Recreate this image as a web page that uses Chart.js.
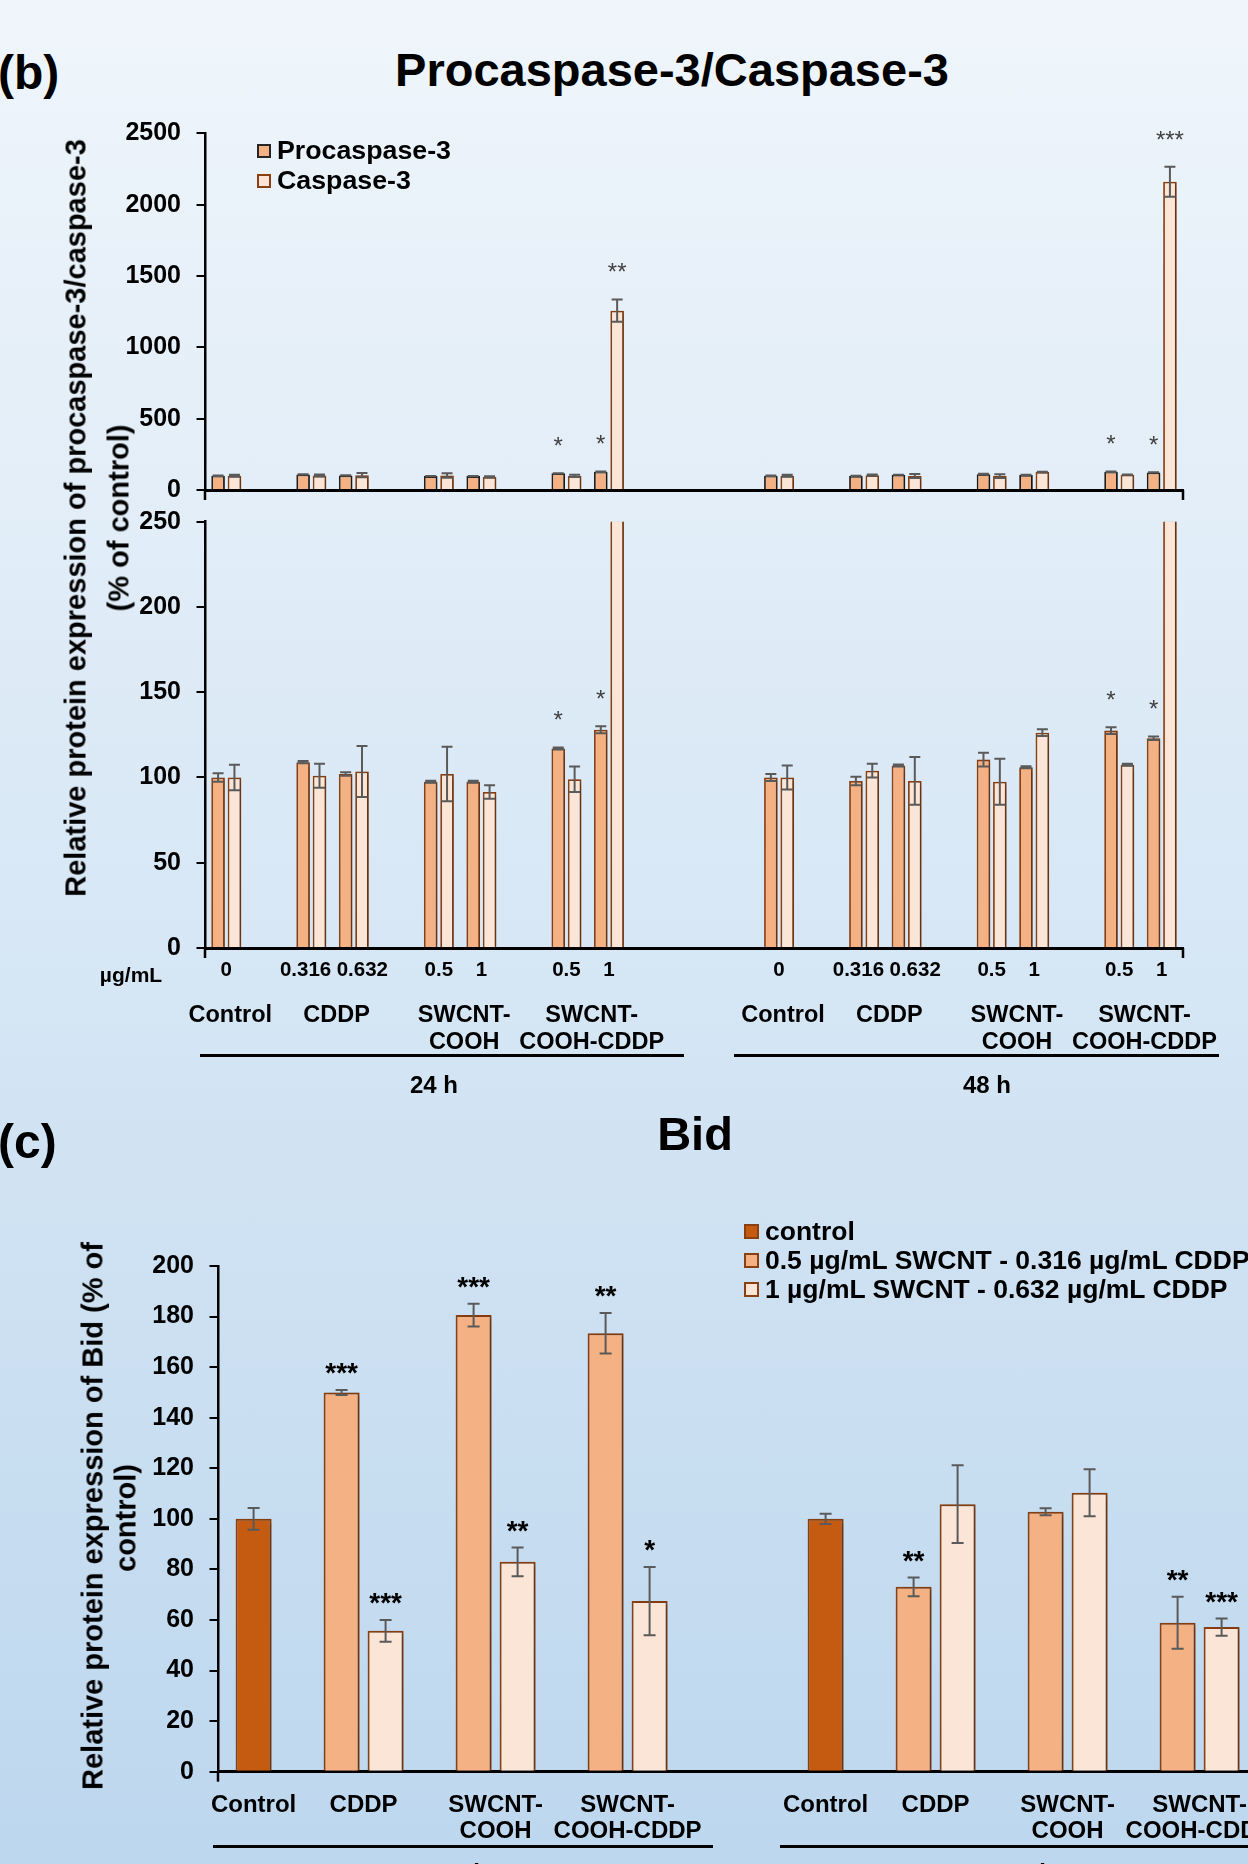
<!DOCTYPE html>
<html><head><meta charset="utf-8">
<script src="https://cdn.jsdelivr.net/npm/chart.js@4.4.1/dist/chart.umd.min.js"></script>
<style>
html,body{margin:0;padding:0;}
body{width:1248px;height:1864px;overflow:hidden;position:relative;
 background:linear-gradient(to bottom,#eff5fb 0%,#d7e7f5 50%,#bdd7ee 100%);
 font-family:'Liberation Sans',Arial,sans-serif;font-weight:bold;color:#000;}
.t{position:absolute;white-space:nowrap;line-height:1;transform:translate(-50%,-50%);}
.l{position:absolute;white-space:nowrap;line-height:1;transform:translate(0,-50%);transform-origin:0 50%;}
.r{position:absolute;white-space:nowrap;line-height:1;transform:translate(-50%,-50%) rotate(-90deg);}
canvas{position:absolute;left:0;}
.sw{position:absolute;box-sizing:border-box;border:2px solid #8B4011;}
.hl{position:absolute;height:3px;background:#000;}
</style></head><body>
<canvas id="cTop" width="1248" height="440" style="top:100px"></canvas>
<canvas id="cBot" width="1248" height="620" style="top:480px"></canvas>
<canvas id="cBid" width="1248" height="714" style="top:1150px"></canvas>

<div class="l" style="left:-2px;top:73px;font-size:48px">(b)</div>
<div class="t" style="left:672px;top:69px;font-size:47px">Procaspase-3/Caspase-3</div>
<div class="sw" style="left:257px;top:144px;width:14px;height:14px;background:#F4B183;border-color:#262626"></div>
<div class="l" style="left:277px;top:150px;font-size:25px;transform:translate(0,-50%) scaleX(1.07)">Procaspase-3</div>
<div class="sw" style="left:257px;top:174px;width:14px;height:14px;background:#FBE5D6"></div>
<div class="l" style="left:277px;top:180px;font-size:25px;transform:translate(0,-50%) scaleX(1.07)">Caspase-3</div>
<div class="r" style="left:76px;top:518px;font-size:29px">Relative protein expression of procaspase-3/caspase-3</div>
<div class="r" style="left:119px;top:518px;font-size:29px">(% of control)</div>
<div class="t" style="left:131px;top:974px;font-size:21px">µg/mL</div>
<div class="hl" style="left:200px;top:1054px;width:484px"></div>
<div class="hl" style="left:734px;top:1054px;width:485px"></div>
<div class="t" style="left:434px;top:1085px;font-size:24px">24 h</div>
<div class="t" style="left:987px;top:1085px;font-size:24px">48 h</div>

<div class="l" style="left:-2px;top:1142px;font-size:48px">(c)</div>
<div class="t" style="left:695px;top:1133px;font-size:47px">Bid</div>
<div class="sw" style="left:744px;top:1224px;width:15px;height:15px;background:#C55A11"></div>
<div class="l" style="left:765px;top:1231px;font-size:26.5px">control</div>
<div class="sw" style="left:744px;top:1253px;width:15px;height:15px;background:#F4B183"></div>
<div class="l" style="left:765px;top:1260px;font-size:26.5px">0.5 µg/mL SWCNT - 0.316 µg/mL CDDP</div>
<div class="sw" style="left:744px;top:1282px;width:15px;height:15px;background:#FBE5D6"></div>
<div class="l" style="left:765px;top:1289px;font-size:26.5px">1 µg/mL SWCNT - 0.632 µg/mL CDDP</div>
<div class="r" style="left:93px;top:1516px;font-size:29px">Relative protein expression of Bid (% of</div>
<div class="r" style="left:126px;top:1518px;font-size:29px">control)</div>
<div class="hl" style="left:213px;top:1845px;width:500px"></div>
<div class="hl" style="left:780px;top:1845px;width:480px"></div>
<div class="t" style="left:464px;top:1873px;font-size:24px">24 h</div>
<div class="t" style="left:1030px;top:1873px;font-size:24px">48 h</div>

<script>
// ---------- DATA ----------
// 23 slots: 24 h groups use slots 0..9, 48 h groups use slots 13..22 (null = spacer)
const doseLabels = ['0','','0.316','0.632','','0.5','1','','0.5','1','','','','0','','0.316','0.632','','0.5','1','','0.5','1'];
const procaspase = [100,null,109,102,null,97.5,97.5,null,117,128,null,null,null,100,null,98,107,null,110.5,106,null,127.5,123];
const procaspaseErr = [2.5,null,0.6,1,null,0.6,0.6,null,0.6,2,null,null,null,2,null,2.5,0.6,null,4,0.6,null,2,1];
const caspase = [100,null,101,103.5,null,102,91.5,null,99,1257,null,null,null,100,null,104,98,null,97.5,126.3,null,107.5,2161];
const caspaseErr = [7.5,null,7,15,null,16,4,null,7.5,78,null,null,null,7,null,4,14,null,13.5,2,null,0.6,105];
const procaspaseStars = ['','','','','','','','','*','*','','','','','','','','','','','','*','*'];
const caspaseStars = ['','','','','','','','','','**','','','','','','','','','','','','','***'];

const bidControl = [100,null,null,null,null,null,null,null,null,null,null,null,null,100,null,null,null,null,null,null,null,null,null];
const bidControlErr = [4.3,null,null,null,null,null,null,null,null,null,null,null,null,2,null,null,null,null,null,null,null,null,null];
const bidLow = [null,null,150,null,null,180.6,null,null,173.4,null,null,null,null,null,null,73.1,null,null,102.8,null,null,58.9,null];
const bidLowErr = [null,null,1,null,null,4.5,null,null,8,null,null,null,null,null,null,3.7,null,null,1.4,null,null,10.3,null];
const bidHigh = [null,null,null,55.7,null,null,83,null,null,67.5,null,null,null,null,null,null,105.8,null,null,110.3,null,null,57.2];
const bidHighErr = [null,null,null,4.3,null,null,5.7,null,null,13.5,null,null,null,null,null,null,15.4,null,null,9.3,null,null,3.4];
const bidLowStars = ['','','***','','','***','','','**','','','','','','','**','','','','','','**',''];
const bidHighStars = ['','','','***','','','**','','','*','','','','','','','','','','','','','***'];

const groupNames = [['Control'],['CDDP'],['SWCNT-','COOH'],['SWCNT-','COOH-CDDP'],['Control'],['CDDP'],['SWCNT-','COOH'],['SWCNT-','COOH-CDDP']];
const groupSlots = [[0],[2,3],[5,6],[8,9],[13],[15,16],[18,19],[21,22]];

const legendBid = ['control','0.5 µg/mL SWCNT - 0.316 µg/mL CDDP','1 µg/mL SWCNT - 0.632 µg/mL CDDP'];

// ---------- STYLE ----------
const FONT = "'Liberation Sans', Arial, sans-serif";
const PROC_FILL = '#F4B183', CASP_FILL = '#FBE5D6', CTRL_FILL = '#C55A11', EDGE = '#8B4011';
Chart.defaults.font.family = FONT;

// ---------- PLUGINS ----------
function rawVal(raw){ return (raw !== null && typeof raw === 'object') ? raw.y : raw; }
function rawIdx(raw, j){ return (raw !== null && typeof raw === 'object') ? raw.x : j; }

const shadowPlugin = {
  id: 'barShadow',
  beforeDatasetsDraw(chart){ const c = chart.ctx; c.save(); c.shadowColor = 'rgba(0,0,0,0.28)'; c.shadowBlur = 5; c.shadowOffsetX = 3; c.shadowOffsetY = 1; },
  afterDatasetsDraw(chart){ chart.ctx.restore(); }
};

const errorPlugin = {
  id: 'errorBars',
  afterDatasetsDraw(chart, args, opts){
    const {ctx, chartArea: a} = chart; const y = chart.scales.y;
    ctx.save();
    ctx.beginPath(); ctx.rect(a.left, a.top - 1, a.right - a.left, a.bottom - a.top + 1); ctx.clip();
    ctx.strokeStyle = opts.color; ctx.lineWidth = opts.width;
    chart.data.datasets.forEach((ds, di) => {
      const errs = opts.errors[di]; if (!errs) return;
      chart.getDatasetMeta(di).data.forEach((el, j) => {
        const raw = ds.data[j]; const v = rawVal(raw); const e = errs[rawIdx(raw, j)];
        if (v == null || e == null) return;
        const x = el.x, y1 = y.getPixelForValue(v + e), y2 = y.getPixelForValue(v - e), h = opts.cap;
        ctx.beginPath();
        ctx.moveTo(x, y1); ctx.lineTo(x, y2);
        ctx.moveTo(x - h, y1); ctx.lineTo(x + h, y1);
        ctx.moveTo(x - h, y2); ctx.lineTo(x + h, y2);
        ctx.stroke();
      });
    });
    ctx.restore();
  }
};

const starPlugin = {
  id: 'stars',
  afterDatasetsDraw(chart, args, opts){
    const {ctx, chartArea: a} = chart; const y = chart.scales.y;
    ctx.save();
    ctx.font = `${opts.weight} ${opts.size}px ${FONT}`; ctx.fillStyle = opts.color;
    ctx.textAlign = 'center'; ctx.textBaseline = 'alphabetic';
    chart.data.datasets.forEach((ds, di) => {
      const labels = opts.labels[di]; const errs = opts.errors[di] || [];
      if (!labels) return;
      chart.getDatasetMeta(di).data.forEach((el, j) => {
        const raw = ds.data[j]; const idx = rawIdx(raw, j); const v = rawVal(raw);
        const txt = labels[idx]; if (!txt || v == null) return;
        const top = v + (errs[idx] || 0);
        const cy = y.getPixelForValue(top) - opts.offset;
        if (cy < a.top - 4) return;
        ctx.fillText(txt, el.x, cy + 0.58 * opts.size);
      });
    });
    ctx.restore();
  }
};

const endTickPlugin = {
  id: 'endTicks',
  afterDraw(chart, args, opts){
    const {ctx, chartArea: a} = chart;
    ctx.save(); ctx.strokeStyle = '#000'; ctx.lineWidth = opts.width;
    ctx.beginPath();
    opts.at.forEach(s => { const x = a[s]; ctx.moveTo(x, a.bottom); ctx.lineTo(x, a.bottom + opts.len); });
    ctx.stroke(); ctx.restore();
  }
};

const groupLabelPlugin = {
  id: 'groupLabels',
  afterDraw(chart, args, opts){
    if (!opts.names) return;
    const {ctx, chartArea: a} = chart; const x = chart.scales.x;
    ctx.save(); ctx.font = `bold ${opts.size}px ${FONT}`; ctx.fillStyle = '#000';
    ctx.textAlign = 'center'; ctx.textBaseline = 'alphabetic';
    opts.names.forEach((lines, g) => {
      const slots = opts.slots[g];
      const cx = slots.reduce((s, i) => s + x.getPixelForValue(i), 0) / slots.length + (opts.dx || 0);
      lines.forEach((t, k) => ctx.fillText(t, cx, a.bottom + opts.rows[k] + 0.358 * opts.size));
    });
    ctx.restore();
  }
};

const allPlugins = [shadowPlugin, errorPlugin, starPlugin, endTickPlugin, groupLabelPlugin];

function yAxis(max, step, width, size, border){
  return {
    min: 0, max: max,
    ticks: {stepSize: step, font: {size: size, weight: 'bold'}, color: '#000', padding: 15.5,
            callback: (v) => String(v)},
    grid: {drawOnChartArea: false, tickLength: 8.5, color: '#000', lineWidth: 2},
    border: {color: '#000', width: border},
    afterFit(s){ s.width = width; }
  };
}

// ---------- PANEL (b) : top (0-2500) ----------
function procCasp(procEdge){
  return [
    {label: 'Procaspase-3', data: procaspase, backgroundColor: PROC_FILL, borderColor: procEdge, borderWidth: 1.8, clip: 0},
    {label: 'Caspase-3', data: caspase, backgroundColor: CASP_FILL, borderColor: EDGE, borderWidth: 1.8, clip: 0}
  ];
}

new Chart(document.getElementById('cTop'), {
  type: 'bar',
  data: {labels: doseLabels, datasets: procCasp('#1f1f1f')},
  options: {
    responsive: false, animation: false, devicePixelRatio: 1,
    layout: {autoPadding: false, padding: {top: 33.3, bottom: 50, left: 0, right: 65}},
    datasets: {bar: {categoryPercentage: 0.77, barPercentage: 0.83}},
    scales: {
      x: {ticks: {display: false}, grid: {display: false, drawTicks: false}, border: {color: '#000', width: 3}, afterFit(s){ s.height = 0; }},
      y: yAxis(2500, 500, 205, 25, 2.5)
    },
    plugins: {
      legend: {display: false}, tooltip: {enabled: false},
      errorBars: {errors: [procaspaseErr, caspaseErr], color: '#5a5a5a', width: 2, cap: 5.5},
      stars: {labels: [procaspaseStars, caspaseStars], errors: [procaspaseErr, caspaseErr], offset: 33, size: 24, weight: 'normal', color: '#404040'},
      endTicks: {at: ['left', 'right'], len: 10, width: 2.5},
      groupLabels: {}
    }
  },
  plugins: allPlugins
});

// ---------- PANEL (b) : bottom (0-250) ----------
new Chart(document.getElementById('cBot'), {
  type: 'bar',
  data: {labels: doseLabels, datasets: procCasp(EDGE)},
  options: {
    responsive: false, animation: false, devicePixelRatio: 1,
    layout: {autoPadding: false, padding: {top: 41.7, bottom: 112, left: 0, right: 65}},
    datasets: {bar: {categoryPercentage: 0.77, barPercentage: 0.83}},
    scales: {
      x: {
        ticks: {
          autoSkip: false, maxRotation: 0, minRotation: 0, padding: 10, color: '#000',
          font: {size: 20.5, weight: 'bold'},
          callback(value){ const s = this.getLabelForValue(value);
            return s === '0.316' ? s + '\u00a0\u00a0' : (s === '0.632' ? '\u00a0\u00a0\u00a0' + s : s); }
        },
        grid: {display: false, drawTicks: false}, border: {color: '#000', width: 3},
        afterFit(s){ s.height = 40; }
      },
      y: yAxis(250, 50, 205, 25, 2.5)
    },
    plugins: {
      legend: {display: false}, tooltip: {enabled: false},
      errorBars: {errors: [procaspaseErr, caspaseErr], color: '#5a5a5a', width: 2, cap: 5.5},
      stars: {labels: [procaspaseStars, caspaseStars], errors: [procaspaseErr, caspaseErr], offset: 33, size: 24, weight: 'normal', color: '#404040'},
      endTicks: {at: ['left', 'right'], len: 10, width: 2.5},
      groupLabels: {names: groupNames, slots: groupSlots, size: 23.5, rows: [65.5, 93], dx: 4}
    }
  },
  plugins: allPlugins
});

// ---------- PANEL (c) : Bid ----------
function toXY(arr){ return arr.map((v, i) => ({x: i, y: v})).filter(p => p.y !== null); }

new Chart(document.getElementById('cBid'), {
  type: 'bar',
  data: {datasets: [
    {label: legendBid[0], data: toXY(bidControl), backgroundColor: CTRL_FILL, borderColor: EDGE, borderWidth: 2, clip: 0},
    {label: legendBid[1], data: toXY(bidLow), backgroundColor: PROC_FILL, borderColor: EDGE, borderWidth: 2, clip: 0},
    {label: legendBid[2], data: toXY(bidHigh), backgroundColor: CASP_FILL, borderColor: EDGE, borderWidth: 2, clip: 0}
  ]},
  options: {
    responsive: false, animation: false, devicePixelRatio: 1,
    layout: {autoPadding: false, padding: {top: 116, bottom: 92.3, left: 0, right: 0}},
    datasets: {bar: {grouped: false, categoryPercentage: 1, barPercentage: 0.818, maxBarThickness: 36}},
    scales: {
      x: {type: 'linear', offset: false, min: -0.809, max: 22.6,
          ticks: {display: false, stepSize: 1, includeBounds: false},
          grid: {display: false, drawTicks: false, offset: false}, border: {color: '#000', width: 3},
          afterFit(s){ s.height = 0; }},
      y: yAxis(200, 20, 218, 25, 2.5)
    },
    plugins: {
      legend: {display: false}, tooltip: {enabled: false},
      errorBars: {errors: [bidControlErr, bidLowErr, bidHighErr], color: '#5a5a5a', width: 2, cap: 6},
      stars: {labels: [null, bidLowStars, bidHighStars], errors: [bidControlErr, bidLowErr, bidHighErr], offset: 24, size: 28, weight: 'bold', color: '#000'},
      endTicks: {at: ['left'], len: 10, width: 2.5},
      groupLabels: {names: groupNames, slots: groupSlots, size: 24, rows: [31.5, 57.5], dx: 0}
    }
  },
  plugins: allPlugins
});
</script>
</body></html>
